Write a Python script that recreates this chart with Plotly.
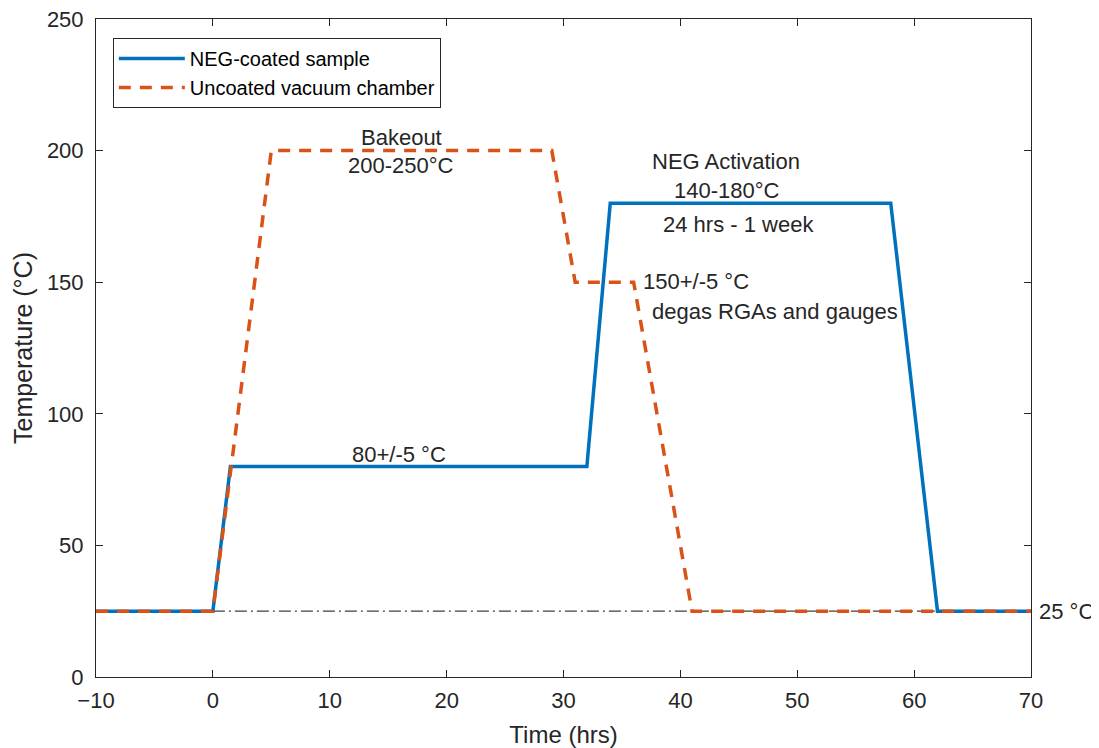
import plotly.graph_objects as go

neg_x = [-10, 0, 1.5, 32, 34, 58, 62, 70]
neg_y = [25, 25, 80, 80, 180, 180, 25, 25]
unc_x = [-10, 0, 5, 29, 31, 36, 41, 70]
unc_y = [25, 25, 200, 200, 150, 150, 25, 25]
ref_x = [0, 70]
ref_y = [25, 25]

x_ticks = [-10, 0, 10, 20, 30, 40, 50, 60, 70]
y_ticks = [0, 50, 100, 150, 200, 250]

font = "Liberation Sans, Arial, sans-serif"
txt = "#262626"

fig = go.Figure()
fig.add_trace(go.Scatter(x=ref_x, y=ref_y, mode="lines", showlegend=False,
                         line=dict(color="#404040", width=1.2, dash="12px,4px,2px,4px")))
fig.add_trace(go.Scatter(x=neg_x, y=neg_y, mode="lines", name="NEG-coated sample",
                         line=dict(color="#0072BD", width=3.5)))
fig.add_trace(go.Scatter(x=unc_x, y=unc_y, mode="lines", name="Uncoated vacuum chamber",
                         line=dict(color="#D95319", width=3.5, dash="12px,9px")))

ann = [
    (16.1, 205, "Bakeout", "center"),
    (16.1, 194.5, "200-250°C", "center"),
    (15.9, 84.6, "80+/-5 °C", "center"),
    (43.9, 196, "NEG Activation", "center"),
    (44.0, 184.7, "140-180°C", "center"),
    (45.0, 172, "24 hrs - 1 week", "center"),
    (36.7, 150.3, "150+/-5 °C", "left"),
    (37.5, 139, "degas RGAs and gauges", "left"),
]
for x, y, t, a in ann:
    fig.add_annotation(x=x, y=y, text=t, showarrow=False, xanchor=a, yanchor="middle",
                       borderpad=0, font=dict(family=font, size=22, color=txt))
fig.add_annotation(x=1.007, xref="paper", y=25, yref="y", text="25 °C", showarrow=False,
                   xanchor="left", yanchor="middle", borderpad=0,
                   font=dict(family=font, size=22, color=txt))

axis_common = dict(showgrid=False, zeroline=False, showline=True, linecolor="#262626",
                   linewidth=1, mirror="ticks", ticks="inside", ticklen=7, automargin=False,
                   ticklabeloverflow="allow",
                   tickcolor="#262626", tickfont=dict(family=font, size=22, color=txt))
fig.update_xaxes(range=[-10, 70], tickvals=x_ticks, ticklabelstandoff=4,
                 title=dict(text="Time (hrs)", font=dict(family=font, size=24, color=txt), standoff=17),
                 **axis_common)
fig.update_yaxes(range=[0, 250], tickvals=y_ticks, ticklabelstandoff=7,
                 title=dict(text="Temperature (°C)", font=dict(family=font, size=25, color=txt), standoff=7),
                 **axis_common)

fig.update_layout(
    width=1091, height=740,
    margin=dict(l=88, r=68, t=11, b=71),
    plot_bgcolor="white", paper_bgcolor="white",
    legend=dict(x=0.018, y=0.971, xanchor="left", yanchor="top",
                bordercolor="#262626", borderwidth=1, bgcolor="white",
                font=dict(family=font, size=20, color="#000000"),
                tracegroupgap=0, itemwidth=66),
)
fig.write_html("out.html")
